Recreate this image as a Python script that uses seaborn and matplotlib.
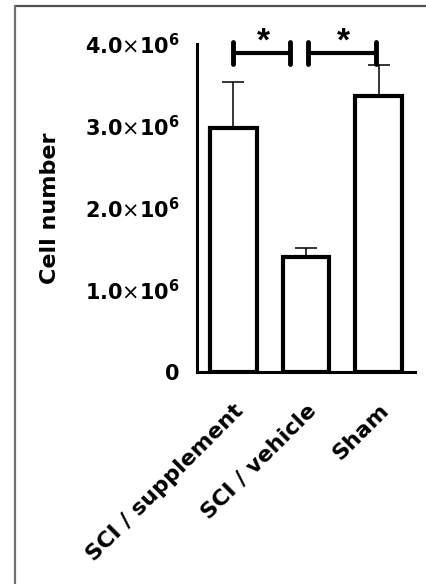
import matplotlib
matplotlib.use("Agg")
import matplotlib.pyplot as plt
from matplotlib.lines import Line2D
import seaborn as sns
import pandas as pd

# ---- data ----
groups = ["SCI / supplement", "SCI / vehicle", "Sham"]
means = [2.98e6, 1.40e6, 3.36e6]
errors = [0.56e6, 0.11e6, 0.39e6]
ytick_values = [0, 1.0e6, 2.0e6, 3.0e6, 4.0e6]
ytick_labels = ["0",
                r"$\mathbf{1.0}{\times}\mathbf{10^{6}}$",
                r"$\mathbf{2.0}{\times}\mathbf{10^{6}}$",
                r"$\mathbf{3.0}{\times}\mathbf{10^{6}}$",
                r"$\mathbf{4.0}{\times}\mathbf{10^{6}}$"]
ylabel = "Cell number"
# significance brackets (start group pos, end group pos, level, label)
sig_start = [0.0, 1.03]
sig_end = [0.78, 1.97]
sig_level = [3.89e6, 3.89e6]
sig_text = ["*", "*"]

sns.set_theme(style="white")
plt.rcParams["font.family"] = ["DejaVu Sans"]
plt.rcParams["mathtext.fontset"] = "dejavusans"
plt.rcParams["text.color"] = "black"

df = pd.DataFrame({"group": groups, "value": means, "err": errors})

W, H = 426, 584
fig = plt.figure(figsize=(W / 100, H / 100), dpi=100)
ax = fig.add_axes([197 / W, 212 / H, 218 / W, 328 / H])

sns.barplot(data=df, x="group", y="value", order=groups, color="white",
            edgecolor="black", linewidth=3.0, width=0.64, errorbar=None,
            ax=ax, zorder=3)
ax.errorbar(range(len(groups)), df["value"], yerr=df["err"], fmt="none",
            ecolor="black", elinewidth=1.1, capsize=8, capthick=1.1, zorder=1)

ax.set_xlim(-0.5, 2.5)
ax.set_ylim(0, 4.0e6)
ax.set_yticks(ytick_values)
ax.set_yticklabels(ytick_labels, fontsize=15, fontweight="bold")
ax.set_xticks(range(len(groups)))
ax.set_xticklabels(groups, rotation=45, ha="right", rotation_mode="anchor",
                   fontsize=16, fontweight="bold")
ax.set_xlabel("")
ax.set_ylabel(ylabel, fontsize=16, fontweight="bold", color="black")
ax.yaxis.set_label_coords(-0.63, 0.5)

for s in ["top", "right"]:
    ax.spines[s].set_visible(False)
for s in ["left", "bottom"]:
    ax.spines[s].set_linewidth(2.2)
    ax.spines[s].set_color("black")
ax.tick_params(axis="both", direction="out", length=9.5, width=2.2,
               color="black", labelcolor="black", pad=3)
ax.tick_params(axis="x", pad=11)

for x0, x1, yv, t in zip(sig_start, sig_end, sig_level, sig_text):
    ax.plot([x0, x1], [yv, yv], color="black", lw=3.0, clip_on=False,
            solid_capstyle="butt")
    for xe in (x0, x1):
        ax.plot([xe, xe], [yv - 0.13e6, yv + 0.13e6], color="black", lw=3.5,
                clip_on=False, solid_capstyle="round")
    ax.text((x0 + x1) / 2 + 0.02, yv + 0.03e6, t, ha="center", va="baseline",
            fontsize=24, fontweight="bold", family="Liberation Sans",
            color="black", clip_on=False)

# frame lines of the original panel
fig.add_artist(Line2D([14.5 / W, 1.0], [1 - 5.5 / H, 1 - 5.5 / H],
                      transform=fig.transFigure, color="#505050", lw=1.6))
fig.add_artist(Line2D([14.5 / W, 14.5 / W], [0, 1 - 5.5 / H],
                      transform=fig.transFigure, color="#707070", lw=1.6))

fig.savefig("out.png", dpi=100)
